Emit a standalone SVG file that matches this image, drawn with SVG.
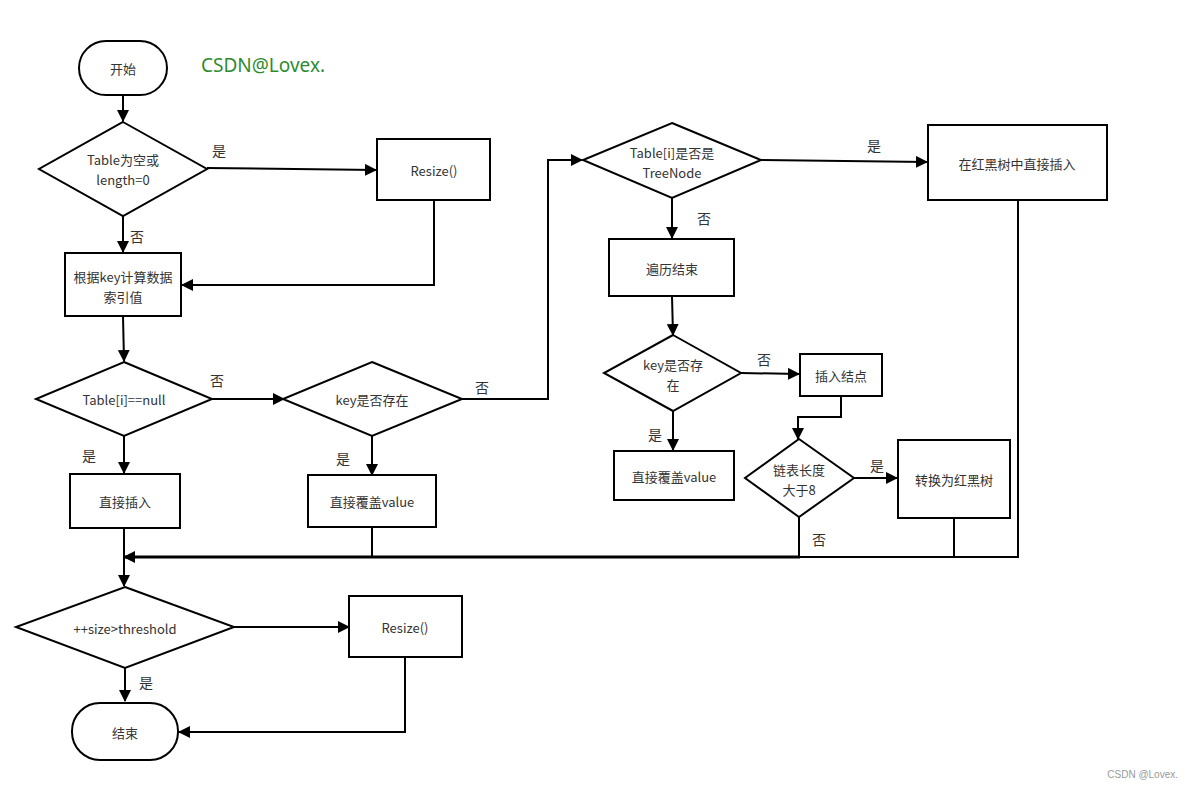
<svg xmlns="http://www.w3.org/2000/svg" width="1192" height="789" viewBox="0 0 1192 789">
<style>
.n{fill:#fff;stroke:#000;stroke-width:2}
.t{font-family:"Noto Sans CJK SC","Noto Sans",sans-serif;font-size:13px;fill:#333;text-anchor:middle;dominant-baseline:central}
.l{font-family:"Noto Sans CJK SC","Noto Sans",sans-serif;font-size:14px;fill:#333;text-anchor:middle;dominant-baseline:central}
.c{fill:none;stroke:#000;stroke-width:2}
</style>
<defs>
<marker id="a" markerUnits="userSpaceOnUse" markerWidth="12" markerHeight="12" refX="11" refY="6" orient="auto">
<path d="M0,0 L12,6 L0,12 Z" fill="#000"/>
</marker>
</defs>
<rect width="1192" height="789" fill="#fff"/>
<text x="201" y="65" font-family="'Noto Sans','Open Sans',sans-serif" font-size="19" fill="#2e8b2e" dominant-baseline="central">CSDN@Lovex.</text>
<text x="1178" y="774" font-family="'Liberation Sans',sans-serif" font-size="10" fill="#999" text-anchor="end" dominant-baseline="central">CSDN @Lovex.</text>
<g id="connectors">
<path class="c" d="M123,95 V121" marker-end="url(#a)"/>
<path class="c" d="M207,168 L376,170" marker-end="url(#a)"/>
<path class="c" d="M123,216 V252" marker-end="url(#a)"/>
<path class="c" d="M434,200 V285 H182" marker-end="url(#a)"/>
<path class="c" d="M123,316 L124,361" marker-end="url(#a)"/>
<path class="c" d="M212,399 H284" marker-end="url(#a)"/>
<path class="c" d="M124,436 V473" marker-end="url(#a)"/>
<path class="c" d="M372,436 V475" marker-end="url(#a)"/>
<path class="c" d="M462,399 H548 V160 H582" marker-end="url(#a)"/>
<path class="c" d="M761,160 L927,162" marker-end="url(#a)"/>
<path class="c" d="M672,198 V238" marker-end="url(#a)"/>
<path class="c" d="M672,296 L673,335" marker-end="url(#a)"/>
<path class="c" d="M741,373 L799,374" marker-end="url(#a)"/>
<path class="c" d="M841,396 V417 H798 V439" marker-end="url(#a)"/>
<path class="c" d="M854,478 H897" marker-end="url(#a)"/>
<path class="c" d="M673,411 V450" marker-end="url(#a)"/>
<path class="c" d="M1018,200 V557 H798"/>
<path class="c" d="M954,518 V557"/>
<path class="c" d="M799,517 V557"/>
<path class="c" d="M372,527 V557"/>
<path fill="none" stroke="#000" stroke-width="3" d="M800,557 H124" marker-end="url(#a)"/>
<path class="c" d="M124,528 V557"/>
<path class="c" d="M124,557 V586" marker-end="url(#a)"/>
<path class="c" d="M234,627 H349" marker-end="url(#a)"/>
<path class="c" d="M125,668 V701" marker-end="url(#a)"/>
<path class="c" d="M405,657 V732 H179" marker-end="url(#a)"/>
<text class="l" x="219" y="150">是</text>
<text class="l" x="137" y="236">否</text>
<text class="l" x="217" y="380">否</text>
<text class="l" x="89" y="455">是</text>
<text class="l" x="343" y="458">是</text>
<text class="l" x="482" y="387">否</text>
<text class="l" x="874" y="145">是</text>
<text class="l" x="704" y="218">否</text>
<text class="l" x="764" y="359">否</text>
<text class="l" x="655" y="434">是</text>
<text class="l" x="877" y="465">是</text>
<text class="l" x="819" y="539">否</text>
<text class="l" x="146" y="682">是</text>
</g>
<g id="start"><rect class="n" x="79" y="41" width="88" height="54" rx="27"/><text class="t" x="123" y="68">开始</text></g>
<g id="d1"><polygon class="n" points="123,122 207,169 123,216 39,169"/><text class="t" x="123" y="159">Table为空或</text><text class="t" x="123" y="179">length=0</text></g>
<g id="resize1"><rect class="n" x="377" y="139" width="113" height="61"/><text class="t" x="434" y="170">Resize()</text></g>
<g id="calc"><rect class="n" x="65" y="253" width="116" height="63"/><text class="t" x="123" y="276">根据key计算数据</text><text class="t" x="123" y="296">索引值</text></g>
<g id="d2"><polygon class="n" points="124,362 212,399 124,436 36,399"/><text class="t" x="124" y="399">Table[i]==null</text></g>
<g id="d3"><polygon class="n" points="372,362 462,399 372,436 283,399"/><text class="t" x="372" y="399">key是否存在</text></g>
<g id="insert"><rect class="n" x="70" y="474" width="110" height="54"/><text class="t" x="125" y="501">直接插入</text></g>
<g id="cover1"><rect class="n" x="308" y="475" width="128" height="52"/><text class="t" x="372" y="501">直接覆盖value</text></g>
<g id="d4"><polygon class="n" points="672,123 761,160 672,198 583,160"/><text class="t" x="672" y="152">Table[i]是否是</text><text class="t" x="672" y="172">TreeNode</text></g>
<g id="rbinsert"><rect class="n" x="928" y="125" width="179" height="75"/><text class="t" x="1017" y="163">在红黑树中直接插入</text></g>
<g id="traverse"><rect class="n" x="609" y="239" width="125" height="57"/><text class="t" x="672" y="268">遍历结束</text></g>
<g id="d5"><polygon class="n" points="673,335 741,373 673,411 604,373"/><text class="t" x="673" y="364">key是否存</text><text class="t" x="673" y="384">在</text></g>
<g id="insnode"><rect class="n" x="800" y="354" width="82" height="42"/><text class="t" x="841" y="375">插入结点</text></g>
<g id="cover2"><rect class="n" x="614" y="451" width="120" height="49"/><text class="t" x="674" y="476">直接覆盖value</text></g>
<g id="d6"><polygon class="n" points="799,439 854,478 799,517 745,478"/><text class="t" x="799" y="469">链表长度</text><text class="t" x="799" y="489">大于8</text></g>
<g id="torb"><rect class="n" x="898" y="440" width="112" height="78"/><text class="t" x="954" y="479">转换为红黑树</text></g>
<g id="d7"><polygon class="n" points="125,587 234,627 125,668 16,627"/><text class="t" x="125" y="628">++size&gt;threshold</text></g>
<g id="resize2"><rect class="n" x="349" y="596" width="113" height="61"/><text class="t" x="405" y="627">Resize()</text></g>
<g id="end"><rect class="n" x="72" y="703" width="106" height="57" rx="28"/><text class="t" x="125" y="732">结束</text></g>
</svg>
